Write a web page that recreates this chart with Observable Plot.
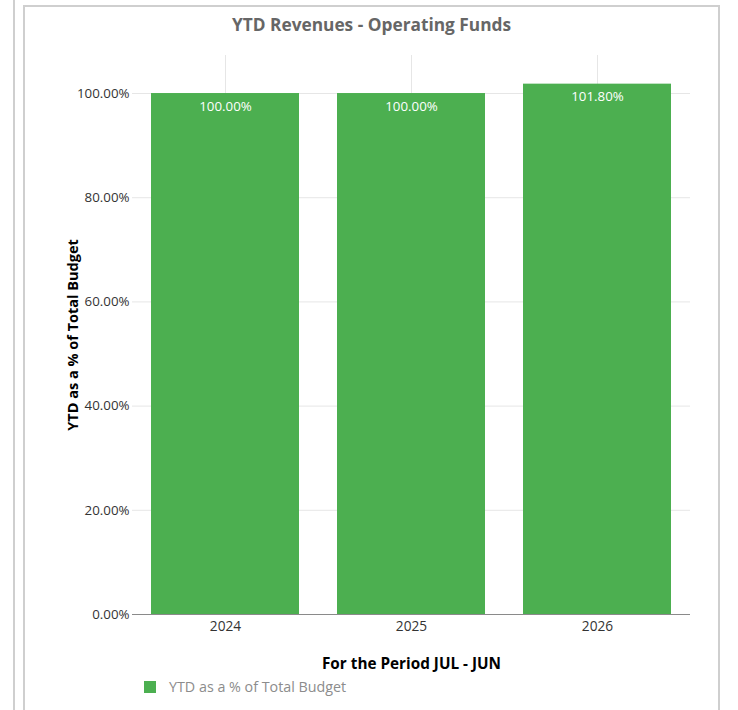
<!DOCTYPE html>
<html>
<head>
<meta charset="utf-8">
<script src="https://cdn.jsdelivr.net/npm/d3@7"></script>
<script src="https://cdn.jsdelivr.net/npm/@observablehq/plot@0.6"></script>
<style>
  html, body { margin: 0; padding: 0; background: #fff; }
  #wrap { position: relative; width: 738px; height: 710px; overflow: hidden; font-family: "Open Sans", sans-serif; }
  #leftline { position: absolute; left: 13px; top: 0; width: 2px; height: 710px; background: #cfcfcf; }
  #frame { position: absolute; left: 23px; top: 5px; width: 693px; height: 720px; border: 2px solid #cfcfcf; border-bottom: none; }
  #title { position: absolute; left: 23px; width: 697px; top: 13px; text-align: center; font-weight: 700; font-size: 17.3px; color: #666; }
  #chart { position: absolute; left: 0; top: 0; }
  #legend { position: absolute; left: 144px; top: 677px; display: flex; align-items: center; font-size: 14.3px; color: #8c8c8c; }
  #legend .sw { width: 12px; height: 12px; background: #4caf50; margin-right: 13px; }
</style>
</head>
<body>
<div id="wrap">
  <div id="leftline"></div>
  <div id="frame"></div>
  <div id="chart"></div>
  <div id="title">YTD Revenues - Operating Funds</div>
  <div id="legend"><div class="sw"></div><span>YTD as a % of Total Budget</span></div>
</div>
<script>
const years = ["2024", "2025", "2026"];
const values = [100.0, 100.0, 101.8];
const yTicks = [0, 20, 40, 60, 80, 100];
const yMax = 107.3;
const seriesName = "YTD as a % of Total Budget";
const xTitle = "For the Period JUL - JUN";

const data = years.map((y, i) => ({year: y, value: values[i]}));
const pct = d => d.toFixed(2) + "%";

const chart = Plot.plot({
  width: 738,
  height: 710,
  marginLeft: 132,
  marginRight: 48,
  marginTop: 55,
  marginBottom: 96,
  style: {fontFamily: "'Open Sans', sans-serif", fontSize: "13px", background: "transparent", overflow: "visible"},
  x: {type: "band", domain: years, padding: 0},
  y: {domain: [0, yMax]},
  marks: [
    Plot.ruleY(yTicks, {y: d => d, stroke: "#e6e6e6", strokeWidth: 1}),
    Plot.ruleX(years, {x: d => d, y1: 0, y2: yMax, stroke: "#e6e6e6", strokeWidth: 1}),
    Plot.barY(data, {x: "year", y: "value", fill: "#4caf50", insetLeft: 19, insetRight: 19}),
    Plot.text(data, {x: "year", y: "value", text: d => pct(d.value), fill: "#fff", fontSize: 13.3, dy: 13, lineAnchor: "middle"}),
    Plot.ruleY([0], {stroke: "#8a8a8a", strokeWidth: 1}),
    Plot.axisY({ticks: yTicks, tickFormat: pct, tickSize: 0, tickPadding: 3, label: null, fill: "#333", fontSize: 13.3}),
    Plot.axisX({tickSize: 0, tickPadding: 7, label: null, fill: "#333", fontSize: 13.7}),
    Plot.text([seriesName], {frameAnchor: "left", dx: -59, rotate: -90, text: d => d, fontWeight: "bold", fontSize: 14.5, fill: "#000", textAnchor: "middle", lineAnchor: "middle"}),
    Plot.text([xTitle], {frameAnchor: "bottom", dy: 50, text: d => d, fontWeight: "bold", fontSize: 15.3, fill: "#000", textAnchor: "middle", lineAnchor: "middle"})
  ]
});
document.getElementById("chart").appendChild(chart);
</script>
</body>
</html>
